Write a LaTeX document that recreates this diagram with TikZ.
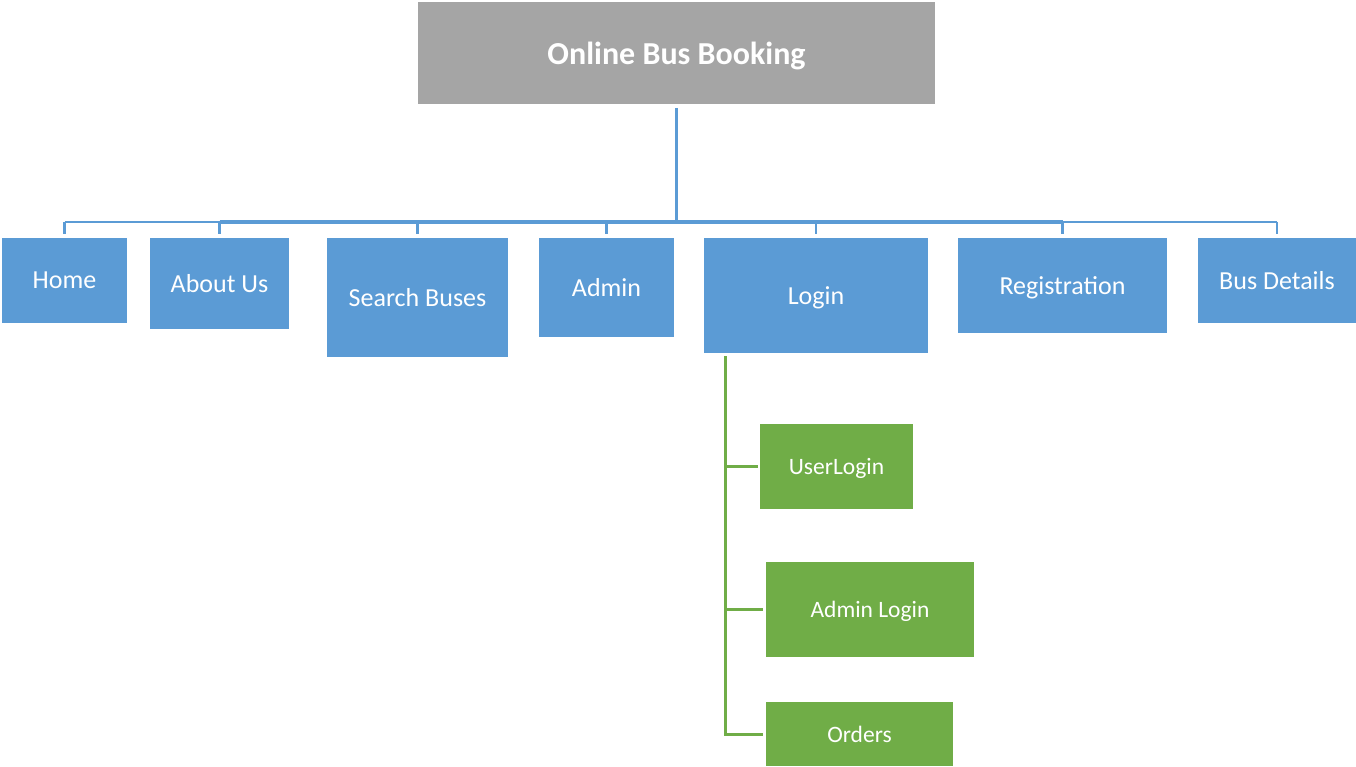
\documentclass[tikz,border=0pt]{standalone}
\usepackage{fontspec}
\setmainfont{Carlito}
\definecolor{rootgray}{HTML}{A5A5A5}
\definecolor{nodeblue}{HTML}{5B9BD5}
\definecolor{nodegreen}{HTML}{70AD47}
\tikzset{
  boxbase/.style={text=white, inner sep=0pt, outer sep=0pt, text depth=0pt},
  rootbox/.style={boxbase, fill=rootgray,
    font=\fontsize{32}{36}\selectfont\bfseries},
  bluebox/.style={boxbase, fill=nodeblue,
    font=\fontsize{26}{30}\selectfont},
  greenbox/.style={boxbase, fill=nodegreen,
    font=\fontsize{23.5}{27}\selectfont},
  trunk/.style={draw=nodeblue, line width=3.5pt},
  twig/.style={draw=nodeblue, line width=2.5pt},
  gline/.style={draw=nodegreen, line width=3pt}
}
\begin{document}
\begin{tikzpicture}[x=1pt,y=-1pt]
\useasboundingbox (0,0) rectangle (1356,767);

% root
\node[rootbox, minimum width=517pt, minimum height=102pt] (root) at (676.5,53) {Online Bus Booking};

% first level
\node[bluebox, minimum width=125pt, minimum height=85pt]  (home)   at (64.5,280.5)  {Home};
\node[bluebox, minimum width=139pt, minimum height=91pt]  (about)  at (219.5,283.5) {About Us};
\node[bluebox, minimum width=181pt, minimum height=119pt] (search) at (417.5,297.5) {Search Buses};
\node[bluebox, minimum width=135pt, minimum height=99pt]  (admin)  at (606.5,287.5) {Admin};
\node[bluebox, minimum width=224pt, minimum height=115pt] (login)  at (816,295.5)   {Login};
\node[bluebox, minimum width=209pt, minimum height=95pt]  (reg)    at (1062.5,285.5) {Registration};
\node[bluebox, minimum width=158pt, minimum height=85pt]  (busd)   at (1277,280.5)  {Bus Details};

% login children
\node[greenbox, minimum width=153pt, minimum height=85pt] (user)   at (836.5,466.5) {UserLogin};
\node[greenbox, minimum width=208pt, minimum height=95pt] (alogin) at (870,609.5)   {Admin Login};
\node[greenbox, minimum width=187pt, minimum height=64pt] (orders) at (859.5,734)   {Orders};

% bus bar
\coordinate (bus) at (676,222);
\draw[trunk] ([yshift=-4pt]root.south) -- (root.south |- bus);
\draw[trunk] (about.north |- bus) -- (reg.north |- bus);
\draw[twig] (home.north |- bus) -- (about.north |- bus);
\draw[twig] (reg.north |- bus) -- (busd.north |- bus);
\foreach \n in {home,about,search,admin,login,reg,busd}
  \draw[twig] (\n.north |- bus) -- ([yshift=4pt]\n.north);

% login spine
\coordinate (spine) at (725,356);
\draw[gline] (spine) |- ([xshift=-3pt]orders.west);
\draw[gline] (spine |- user.west) -- ([xshift=-2pt]user.west);
\draw[gline] (spine |- alogin.west) -- ([xshift=-3pt]alogin.west);
\end{tikzpicture}
\end{document}
